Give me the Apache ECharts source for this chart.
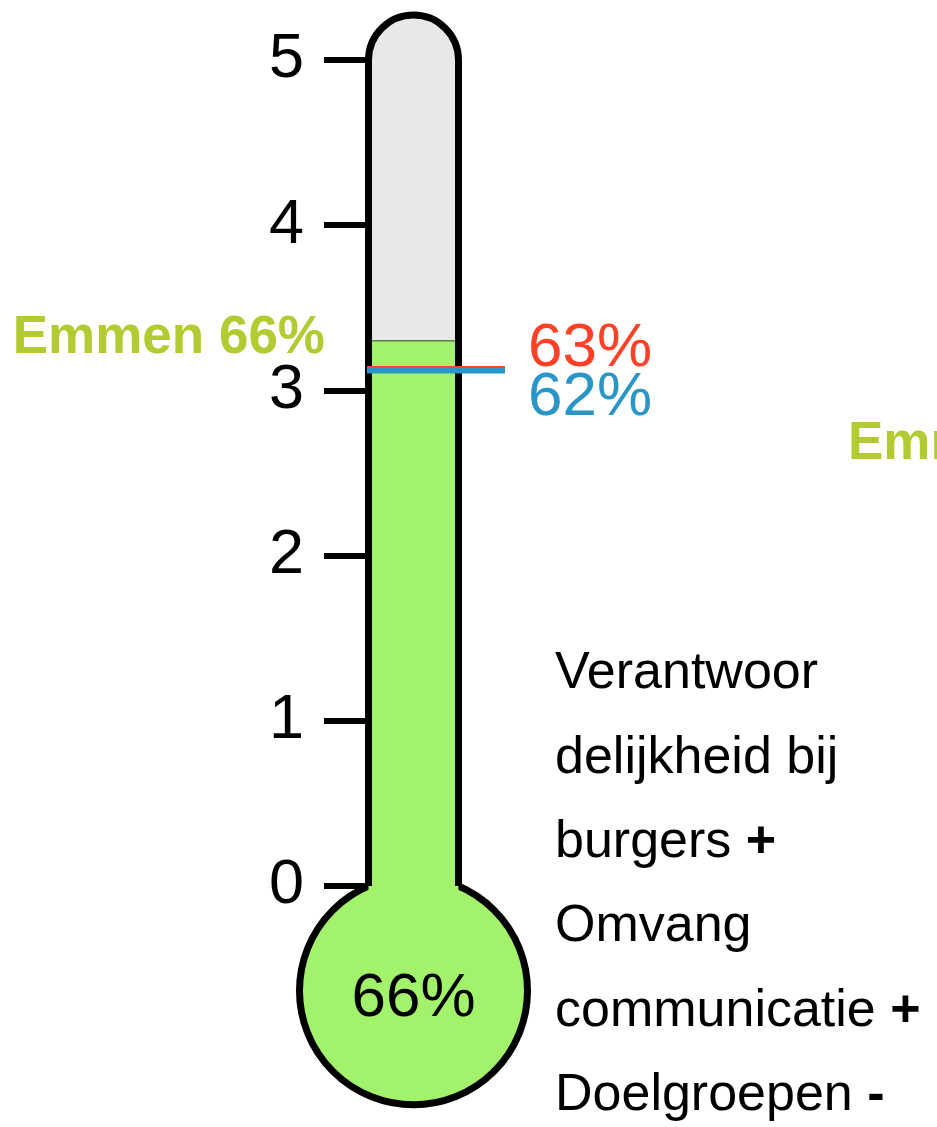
<!DOCTYPE html>
<html>
<head>
<meta charset="utf-8">
<script src="https://cdn.jsdelivr.net/npm/echarts@6/dist/echarts.min.js"></script>
<style>html,body{margin:0;padding:0;background:#fff;}#c{width:937px;height:1127px;}</style>
</head>
<body>
<div id="c"></div>
<script>
// ---- data ----
const yTicks = [0, 1, 2, 3, 4, 5];
const fillValue = [3.3];            // Emmen 66% of 5
const fillLabel = 'Emmen 66%';
const bulbLabel = '66%';
const refValues = [3.13, 3.12];     // reference markers
const refLabels = ['63%', '62%'];
const refColors = ['#ff4128', '#2a96c8'];
const noteLines = ['Verantwoor', 'delijkheid bij', 'burgers', 'Omvang', 'communicatie', 'Doelgroepen'];
const noteSigns = ['', '', '+', '', '+', '-'];
const sideLabel = 'Emmen 66%';

const FONT = '"Liberation Sans", Arial, sans-serif';
const GREEN = '#a3f26b';
const LABEL_GREEN = '#b3cb32';

const chart = echarts.init(document.getElementById('c'), null, {renderer: 'canvas'});

const noteGraphics = [];
noteLines.forEach((t, i) => {
  const mid = 674 + i * 84.3;
  noteGraphics.push({
    type: 'text', x: 555, y: mid,
    style: {
      text: noteSigns[i] ? '{n|' + t + ' }{b|' + noteSigns[i] + '}' : '{n|' + t + '}',
      rich: {
        n: {fontSize: 52, fontFamily: FONT, fill: '#000', color: '#000'},
        b: {fontSize: 52, fontFamily: FONT, fontWeight: 'bold', fill: '#000', color: '#000'}
      },
      align: 'left', verticalAlign: 'middle'
    }
  });
});
noteGraphics.push({
  type: 'text', x: 848, y: 444,
  style: {text: sideLabel, fontSize: 53, fontWeight: 'bold', fontFamily: FONT, fill: LABEL_GREEN, align: 'left', verticalAlign: 'middle'}
});

const option = {
  animation: false,
  backgroundColor: '#fff',
  grid: {left: 368, top: 60, width: 90, height: 826, containLabel: false},
  xAxis: {type: 'value', min: 0, max: 1, show: false},
  yAxis: {
    type: 'value', min: yTicks[0], max: yTicks[yTicks.length - 1], interval: 1,
    axisLine: {show: false},
    splitLine: {show: false},
    axisTick: {show: true, length: 44, lineStyle: {color: '#000', width: 6}},
    axisLabel: {fontSize: 63, color: '#000', margin: 64, fontFamily: FONT,
      formatter: v => String(v)}
  },
  graphic: noteGraphics,
  series: [
    {
      type: 'custom',
      z: 2,
      data: fillValue.map(v => [v]),
      encode: {y: 0},
      renderItem: function (params, api) {
        const pTop = api.coord([0, 5]);
        const pBot = api.coord([1, 0]);
        const pFill = api.coord([0, api.value(0)]);
        const x0 = pTop[0] + 0.5, x1 = pBot[0] + 0.5;
        const yT = pTop[1], yB = pBot[1], yF = pFill[1];
        const r = (x1 - x0) / 2, cx = (x0 + x1) / 2;
        const R = 114;
        const cy = yB + Math.sqrt(R * R - r * r);
        const tubePath = 'M' + x0 + ' ' + yB + ' L' + x0 + ' ' + yT +
          ' A' + r + ' ' + r + ' 0 0 1 ' + x1 + ' ' + yT + ' L' + x1 + ' ' + yB;
        return {
          type: 'group',
          children: [
            {type: 'path', shape: {pathData: tubePath + ' Z'}, style: {fill: '#e8e8e8', stroke: null}},
            {type: 'circle', shape: {cx: cx, cy: cy, r: R}, style: {fill: GREEN, stroke: '#000', lineWidth: 7}},
            {type: 'rect', shape: {x: x0, y: yF, width: x1 - x0, height: yB + 20 - yF}, style: {fill: GREEN}},
            {type: 'line', shape: {x1: x0, y1: yF, x2: x1, y2: yF}, style: {stroke: '#5b7a48', lineWidth: 1.5}},
            {type: 'path', shape: {pathData: tubePath}, style: {fill: null, stroke: '#000', lineWidth: 7}},
            {type: 'text', x: cx, y: cy + 8, style: {text: bulbLabel, fontSize: 62, fontFamily: FONT, fill: '#000', align: 'center', verticalAlign: 'middle'}},
            {type: 'text', x: 325, y: yF - 2, style: {text: fillLabel, fontSize: 53, fontWeight: 'bold', fontFamily: FONT, fill: LABEL_GREEN, align: 'right', verticalAlign: 'middle'}}
          ]
        };
      }
    },
    {
      type: 'custom',
      z: 3,
      data: refValues.map((v, i) => [v, i]),
      encode: {y: 0},
      renderItem: function (params, api) {
        const idx = api.value(1);
        const p = api.coord([0, api.value(0)]);
        const x0 = p[0] - 1, y = p[1];
        const color = refColors[idx];
        const ly = idx === 0 ? y - 20 : y + 27;
        return {
          type: 'group',
          children: [
            {type: 'line', shape: {x1: x0, y1: y, x2: 505, y2: y}, style: {stroke: color, lineWidth: 6}},
            {type: 'text', x: 528, y: ly, style: {text: refLabels[idx], fontSize: 62, fontFamily: FONT, fill: color, align: 'left', verticalAlign: 'middle'}}
          ]
        };
      }
    }
  ]
};
chart.setOption(option);
</script>
</body>
</html>
